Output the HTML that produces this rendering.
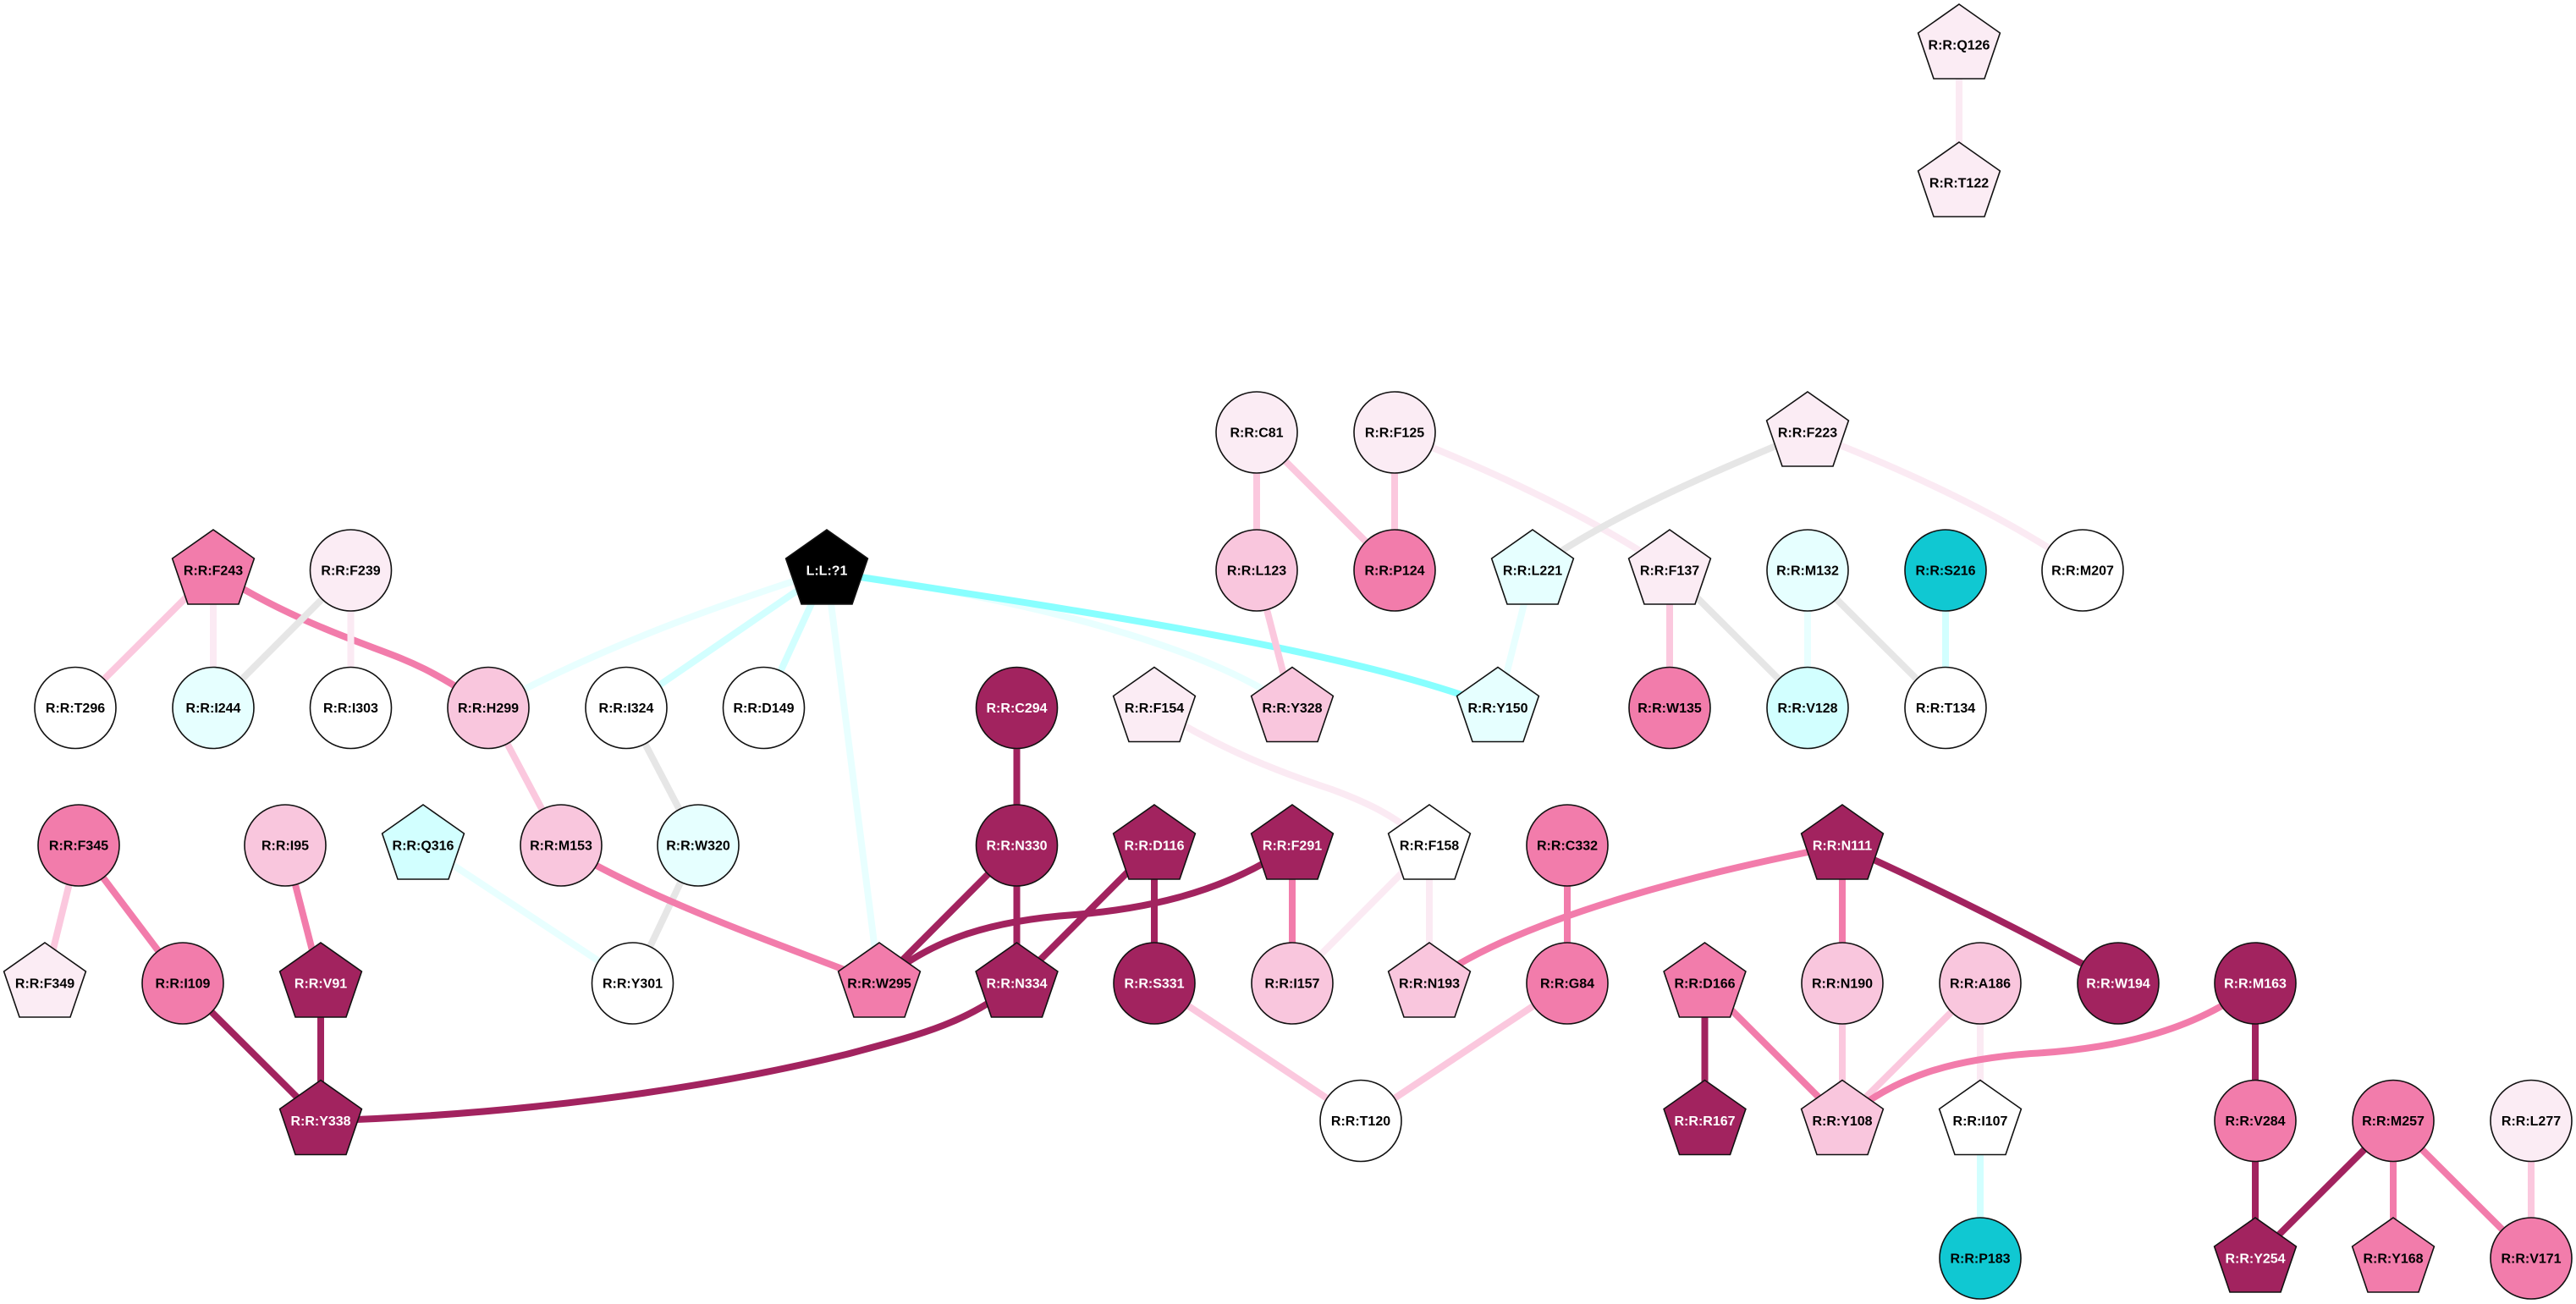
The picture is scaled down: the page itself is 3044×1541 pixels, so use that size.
<!DOCTYPE html>
<html><head><meta charset="utf-8"><title>Residue interaction network</title>
<style>
html,body{margin:0;padding:0;background:#fff;width:3044px;height:1541px;overflow:hidden}
svg{display:block}
path,line{fill:none;stroke-width:8}
.ed{stroke:#A2235F}.ep{stroke:#F27CAB}.el{stroke:#FBC8DE}.eq{stroke:#FBEAF3}.eg{stroke:#E6E6E6}.ea{stroke:#E8FFFF}.ec{stroke:#D2FFFF}.es{stroke:#88FFFF}
circle,polygon{stroke:#111;stroke-width:1.6}
.d{fill:#A2235F}.p{fill:#F27CAB}.l{fill:#F9C6DD}.q{fill:#FBECF4}.w{fill:#fff}.a{fill:#E6FFFF}.c{fill:#D2FFFF}.t{fill:#10C8D2}.k{fill:#000;stroke:#000}
text{font-family:"Liberation Sans",sans-serif;font-weight:700;font-size:16px;text-anchor:middle;fill:#000}
text.x{fill:#fff}
</style></head><body>
<svg xmlns="http://www.w3.org/2000/svg" width="3044" height="1541" viewBox="0 0 3044 1541">
<rect width="3044" height="1541" fill="#fff"/>
<defs>
<polygon id="pg" points="0,-48 48.4,-14 30,40 -30,40 -48.4,-14"/>
</defs>
<!-- edges -->
<line class="eq" x1="2315" y1="53" x2="2315" y2="216"/>
<line class="el" x1="1485" y1="511" x2="1485" y2="674"/>
<line class="el" x1="1485" y1="511" x2="1648" y2="674"/>
<line class="el" x1="1648" y1="511" x2="1648" y2="674"/>
<path class="eq" d="M1648,511 C1760,555 1880,610 1973,674"/>
<path class="eg" d="M2136,511 C2020,560 1900,610 1811,674"/>
<path class="eq" d="M2136,511 C2250,555 2370,610 2461,674"/>
<path class="ea" d="M977,674 C850,715 720,760 577,836.5"/>
<line class="ec" x1="977" y1="674" x2="740" y2="836.5"/>
<line class="ec" x1="977" y1="674" x2="902.5" y2="836.5"/>
<line class="ea" x1="977" y1="674" x2="1039" y2="1162"/>
<path class="ea" d="M977,676 C1200,705 1420,760 1527,836.5"/>
<path class="es" d="M977,676 C1300,725 1600,770 1770,836.5"/>
<line class="el" x1="1485" y1="674" x2="1527" y2="836.5"/>
<line class="ea" x1="1811" y1="674" x2="1770" y2="836.5"/>
<line class="el" x1="1973" y1="674" x2="1973" y2="836.5"/>
<line class="eg" x1="1973" y1="674" x2="2136" y2="836.5"/>
<line class="ea" x1="2136" y1="674" x2="2136" y2="836.5"/>
<line class="eg" x1="2136" y1="674" x2="2299" y2="836.5"/>
<line class="ec" x1="2299" y1="674" x2="2299" y2="836.5"/>
<line class="el" x1="252" y1="674" x2="89" y2="836.5"/>
<line class="eq" x1="252" y1="674" x2="252" y2="836.5"/>
<path class="ep" d="M252,674 C320,720 400,750 440,765 S510,790 577,836.5"/>
<line class="eg" x1="414.5" y1="674" x2="252" y2="836.5"/>
<line class="eq" x1="414.5" y1="674" x2="414.5" y2="836.5"/>
<line class="el" x1="577" y1="836.5" x2="663" y2="999"/>
<line class="eg" x1="740" y1="836.5" x2="825" y2="999"/>
<line class="eg" x1="825" y1="999" x2="747.5" y2="1162"/>
<line class="ea" x1="500" y1="999" x2="747.5" y2="1162"/>
<path class="ep" d="M663,999 C770,1065 920,1115 1039,1162"/>
<line class="el" x1="93" y1="999" x2="53" y2="1162"/>
<line class="ep" x1="93" y1="999" x2="216" y2="1162"/>
<line class="ep" x1="337" y1="999" x2="379" y2="1162"/>
<line class="ed" x1="216" y1="1162" x2="379" y2="1324.5"/>
<line class="ed" x1="379" y1="1162" x2="379" y2="1324.5"/>
<path class="ed" d="M379,1324.5 C600,1318 820,1290 1000,1246 C1090,1222 1140,1210 1201.5,1162"/>
<line class="ed" x1="1201.5" y1="836.5" x2="1201.5" y2="999"/>
<line class="ed" x1="1201.5" y1="999" x2="1039" y2="1162"/>
<line class="ed" x1="1201.5" y1="999" x2="1201.5" y2="1162"/>
<line class="ed" x1="1364" y1="999" x2="1201.5" y2="1162"/>
<line class="ed" x1="1364" y1="999" x2="1364" y2="1162"/>
<path class="ed" d="M1527,999 C1440,1060 1340,1075 1270,1081 C1170,1088 1100,1110 1039,1162"/>
<line class="ep" x1="1527" y1="999" x2="1527" y2="1162"/>
<path class="eq" d="M1364,836.5 C1450,890 1520,915 1574,933 C1620,950 1650,965 1689,999"/>
<line class="eq" x1="1689" y1="999" x2="1527" y2="1162"/>
<line class="eq" x1="1689" y1="999" x2="1689" y2="1162"/>
<line class="ep" x1="1852" y1="999" x2="1852" y2="1162"/>
<path class="ep" d="M2177,999 C2040,1025 1800,1080 1689,1162"/>
<line class="ep" x1="2177" y1="999" x2="2177" y2="1162"/>
<path class="ed" d="M2177,999 C2290,1050 2400,1105 2503,1162"/>
<line class="el" x1="1364" y1="1162" x2="1608" y2="1324.5"/>
<line class="el" x1="1852" y1="1162" x2="1608" y2="1324.5"/>
<line class="ed" x1="2014.5" y1="1162" x2="2014.5" y2="1324.5"/>
<line class="ep" x1="2014.5" y1="1162" x2="2177" y2="1324.5"/>
<line class="el" x1="2177" y1="1162" x2="2177" y2="1324.5"/>
<line class="el" x1="2340" y1="1162" x2="2177" y2="1324.5"/>
<line class="eq" x1="2340" y1="1162" x2="2340" y2="1324.5"/>
<line class="ec" x1="2340" y1="1324.5" x2="2340" y2="1487"/>
<path class="ep" d="M2665,1162 C2590,1222 2490,1240 2400,1245 C2310,1252 2240,1270 2177,1324.5"/>
<line class="ed" x1="2665" y1="1162" x2="2665" y2="1324.5"/>
<line class="ed" x1="2665" y1="1324.5" x2="2665" y2="1487"/>
<line class="ed" x1="2828" y1="1324.5" x2="2665" y2="1487"/>
<line class="ep" x1="2828" y1="1324.5" x2="2828" y2="1487"/>
<line class="ep" x1="2828" y1="1324.5" x2="2991" y2="1487"/>
<line class="el" x1="2991" y1="1324.5" x2="2991" y2="1487"/>
<!-- nodes -->
<g transform="translate(2315,53)"><use href="#pg" class="q"/><text y="5.5">R:R:Q126</text></g>
<g transform="translate(2315,216)"><use href="#pg" class="q"/><text y="5.5">R:R:T122</text></g>
<g transform="translate(1485,511)"><circle r="48" class="q"/><text y="5.5">R:R:C81</text></g>
<g transform="translate(1648,511)"><circle r="48" class="q"/><text y="5.5">R:R:F125</text></g>
<g transform="translate(2136,511)"><use href="#pg" class="q"/><text y="5.5">R:R:F223</text></g>
<g transform="translate(252,674)"><use href="#pg" class="p"/><text y="5.5">R:R:F243</text></g>
<g transform="translate(414.5,674)"><circle r="48" class="q"/><text y="5.5">R:R:F239</text></g>
<g transform="translate(977,674)"><use href="#pg" class="k"/><text y="5.5" class="x">L:L:?1</text></g>
<g transform="translate(1485,674)"><circle r="48" class="l"/><text y="5.5">R:R:L123</text></g>
<g transform="translate(1648,674)"><circle r="48" class="p"/><text y="5.5">R:R:P124</text></g>
<g transform="translate(1811,674)"><use href="#pg" class="a"/><text y="5.5">R:R:L221</text></g>
<g transform="translate(1973,674)"><use href="#pg" class="q"/><text y="5.5">R:R:F137</text></g>
<g transform="translate(2136,674)"><circle r="48" class="a"/><text y="5.5">R:R:M132</text></g>
<g transform="translate(2299,674)"><circle r="48" class="t"/><text y="5.5">R:R:S216</text></g>
<g transform="translate(2461,674)"><circle r="48" class="w"/><text y="5.5">R:R:M207</text></g>
<g transform="translate(89,836.5)"><circle r="48" class="w"/><text y="5.5">R:R:T296</text></g>
<g transform="translate(252,836.5)"><circle r="48" class="a"/><text y="5.5">R:R:I244</text></g>
<g transform="translate(414.5,836.5)"><circle r="48" class="w"/><text y="5.5">R:R:I303</text></g>
<g transform="translate(577,836.5)"><circle r="48" class="l"/><text y="5.5">R:R:H299</text></g>
<g transform="translate(740,836.5)"><circle r="48" class="w"/><text y="5.5">R:R:I324</text></g>
<g transform="translate(902.5,836.5)"><circle r="48" class="w"/><text y="5.5">R:R:D149</text></g>
<g transform="translate(1201.5,836.5)"><circle r="48" class="d"/><text y="5.5" class="x">R:R:C294</text></g>
<g transform="translate(1364,836.5)"><use href="#pg" class="q"/><text y="5.5">R:R:F154</text></g>
<g transform="translate(1527,836.5)"><use href="#pg" class="l"/><text y="5.5">R:R:Y328</text></g>
<g transform="translate(1770,836.5)"><use href="#pg" class="a"/><text y="5.5">R:R:Y150</text></g>
<g transform="translate(1973,836.5)"><circle r="48" class="p"/><text y="5.5">R:R:W135</text></g>
<g transform="translate(2136,836.5)"><circle r="48" class="c"/><text y="5.5">R:R:V128</text></g>
<g transform="translate(2299,836.5)"><circle r="48" class="w"/><text y="5.5">R:R:T134</text></g>
<g transform="translate(93,999)"><circle r="48" class="p"/><text y="5.5">R:R:F345</text></g>
<g transform="translate(337,999)"><circle r="48" class="l"/><text y="5.5">R:R:I95</text></g>
<g transform="translate(500,999)"><use href="#pg" class="c"/><text y="5.5">R:R:Q316</text></g>
<g transform="translate(663,999)"><circle r="48" class="l"/><text y="5.5">R:R:M153</text></g>
<g transform="translate(825,999)"><circle r="48" class="a"/><text y="5.5">R:R:W320</text></g>
<g transform="translate(1201.5,999)"><circle r="48" class="d"/><text y="5.5" class="x">R:R:N330</text></g>
<g transform="translate(1364,999)"><use href="#pg" class="d"/><text y="5.5" class="x">R:R:D116</text></g>
<g transform="translate(1527,999)"><use href="#pg" class="d"/><text y="5.5" class="x">R:R:F291</text></g>
<g transform="translate(1689,999)"><use href="#pg" class="w"/><text y="5.5">R:R:F158</text></g>
<g transform="translate(1852,999)"><circle r="48" class="p"/><text y="5.5">R:R:C332</text></g>
<g transform="translate(2177,999)"><use href="#pg" class="d"/><text y="5.5" class="x">R:R:N111</text></g>
<g transform="translate(53,1162)"><use href="#pg" class="q"/><text y="5.5">R:R:F349</text></g>
<g transform="translate(216,1162)"><circle r="48" class="p"/><text y="5.5">R:R:I109</text></g>
<g transform="translate(379,1162)"><use href="#pg" class="d"/><text y="5.5" class="x">R:R:V91</text></g>
<g transform="translate(747.5,1162)"><circle r="48" class="w"/><text y="5.5">R:R:Y301</text></g>
<g transform="translate(1039,1162)"><use href="#pg" class="p"/><text y="5.5">R:R:W295</text></g>
<g transform="translate(1201.5,1162)"><use href="#pg" class="d"/><text y="5.5" class="x">R:R:N334</text></g>
<g transform="translate(1364,1162)"><circle r="48" class="d"/><text y="5.5" class="x">R:R:S331</text></g>
<g transform="translate(1527,1162)"><circle r="48" class="l"/><text y="5.5">R:R:I157</text></g>
<g transform="translate(1689,1162)"><use href="#pg" class="l"/><text y="5.5">R:R:N193</text></g>
<g transform="translate(1852,1162)"><circle r="48" class="p"/><text y="5.5">R:R:G84</text></g>
<g transform="translate(2014.5,1162)"><use href="#pg" class="p"/><text y="5.5">R:R:D166</text></g>
<g transform="translate(2177,1162)"><circle r="48" class="l"/><text y="5.5">R:R:N190</text></g>
<g transform="translate(2340,1162)"><circle r="48" class="l"/><text y="5.5">R:R:A186</text></g>
<g transform="translate(2503,1162)"><circle r="48" class="d"/><text y="5.5" class="x">R:R:W194</text></g>
<g transform="translate(2665,1162)"><circle r="48" class="d"/><text y="5.5" class="x">R:R:M163</text></g>
<g transform="translate(379,1324.5)"><use href="#pg" class="d"/><text y="5.5" class="x">R:R:Y338</text></g>
<g transform="translate(1608,1324.5)"><circle r="48" class="w"/><text y="5.5">R:R:T120</text></g>
<g transform="translate(2014.5,1324.5)"><use href="#pg" class="d"/><text y="5.5" class="x">R:R:R167</text></g>
<g transform="translate(2177,1324.5)"><use href="#pg" class="l"/><text y="5.5">R:R:Y108</text></g>
<g transform="translate(2340,1324.5)"><use href="#pg" class="w"/><text y="5.5">R:R:I107</text></g>
<g transform="translate(2665,1324.5)"><circle r="48" class="p"/><text y="5.5">R:R:V284</text></g>
<g transform="translate(2828,1324.5)"><circle r="48" class="p"/><text y="5.5">R:R:M257</text></g>
<g transform="translate(2991,1324.5)"><circle r="48" class="q"/><text y="5.5">R:R:L277</text></g>
<g transform="translate(2340,1487)"><circle r="48" class="t"/><text y="5.5">R:R:P183</text></g>
<g transform="translate(2665,1487)"><use href="#pg" class="d"/><text y="5.5" class="x">R:R:Y254</text></g>
<g transform="translate(2828,1487)"><use href="#pg" class="p"/><text y="5.5">R:R:Y168</text></g>
<g transform="translate(2991,1487)"><circle r="48" class="p"/><text y="5.5">R:R:V171</text></g>
</svg>
</body></html>
